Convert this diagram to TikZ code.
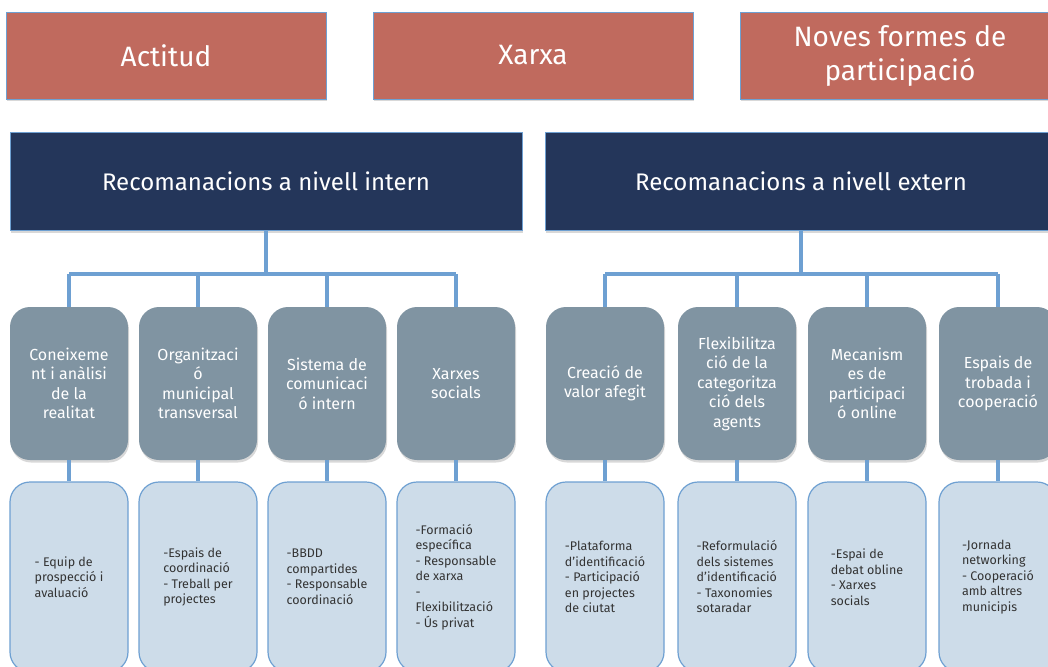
\documentclass[tikz,border=0pt]{standalone}
\usepackage{fontspec}
\setmainfont{Fira Sans}
\usetikzlibrary{positioning,shadows}
\definecolor{teula}{HTML}{C06A5E}
\definecolor{marí}{HTML}{24365A}
\definecolor{pissarra}{HTML}{8094A2}
\definecolor{celest}{HTML}{CDDCE9}
\definecolor{vora}{HTML}{6EA0D2}

\begin{document}
\begin{tikzpicture}[x=1pt,y=-1pt,
	ombra/.style={drop shadow={shadow xshift=1pt,shadow yshift=-2.5pt,opacity=.3}},
	eix/.style={draw=vora,line width=.8pt,fill=teula,text=white,ombra,
		minimum width=320pt,minimum height=87pt,align=center,
		font=\fontsize{28}{34}\selectfont},
	nivell/.style={draw=vora,line width=.8pt,fill=marí,text=white,ombra,
		minimum width=512pt,minimum height=98pt,
		font=\fontsize{24}{28}\selectfont},
	tema/.style={fill=pissarra,text=white,rounded corners=20pt,ombra,
		minimum width=118pt,minimum height=153pt,align=center,
		font=\fontsize{16}{19.5}\selectfont},
	accio/.style={draw=vora,line width=1.2pt,fill=celest,text=black!80,
		rounded corners=20pt,minimum width=118pt,minimum height=190pt,
		align=left,font=\fontsize{12.5}{15.5}\selectfont},
	conn/.style={draw=vora,line width=3.4pt}]
	\useasboundingbox (0,0) rectangle (1048,666);
	\fill[white] (0,0) rectangle (1048,666);
	\clip (0,0) rectangle (1048,666);
	\def\ytema{383.5}
	\def\yaccio{577}
	% eixos de dalt
	\node[eix] (actitud) at (166,55.5) {Actitud};
	\node[eix] (xarxa) at (533,55.5) {Xarxa};
	\node[eix] (noves) at (900,55.5) {Noves formes de\\participació};
	% recomanacions
	\node[nivell] (intern) at (266,181) {Recomanacions a nivell intern};
	\node[nivell] (extern) at (801,181) {Recomanacions a nivell extern};
	\coordinate (barra) at (0,274);
	% temes
	\foreach \i/\x/\t in {1/69/{Coneixeme\\nt i anàlisi\\de la\\realitat},
		2/198/{Organitzaci\\ó\\municipal\\transversal},
		3/327/{Sistema de\\comunicaci\\ó intern},
		4/456/{Xarxes\\socials},
		5/605/{Creació de\\valor afegit},
		6/737/{Flexibilitza\\ció de la\\categoritza\\ció dels\\agents},
		7/867/{Mecanism\\es de\\participaci\\ó online},
		8/998/{Espais de\\trobada i\\cooperació}}
		\node[tema] (t\i) at (\x,\ytema) {\t};
	% accions
	\foreach \i/\x/\t in {1/69/{- Equip de\\prospecció i\\avaluació},
		2/198/{-Espais de\\coordinació\\- Treball per\\projectes},
		3/327/{-BBDD\\compartides\\- Responsable\\coordinació},
		4/456/{-Formació\\específica\\- Responsable\\de xarxa\\-\\Flexibilització\\- Ús privat},
		5/605/{-Plataforma\\d’identificació\\- Participació\\en projectes\\de ciutat},
		6/737/{-Reformulació\\dels sistemes\\d’identificació\\- Taxonomies\\sotaradar},
		7/867/{-Espai de\\debat obline\\- Xarxes\\socials},
		8/998/{-Jornada\\networking\\- Cooperació\\amb altres\\municipis}}
		\node[accio] (a\i) at (\x,\yaccio) {\t};
	% connexions
	\draw[conn] (intern.south) -- (intern.south |- barra);
	\draw[conn] (extern.south) -- (extern.south |- barra);
	\draw[conn] (t1.north |- barra) -- (t4.north |- barra);
	\draw[conn] (t5.north |- barra) -- (t8.north |- barra);
	\foreach \i in {1,...,8}{
		\draw[conn] (t\i.north |- barra) -- (t\i.north);
		\draw[conn] (t\i.south) -- (a\i.north);
	}
\end{tikzpicture}
\end{document}
